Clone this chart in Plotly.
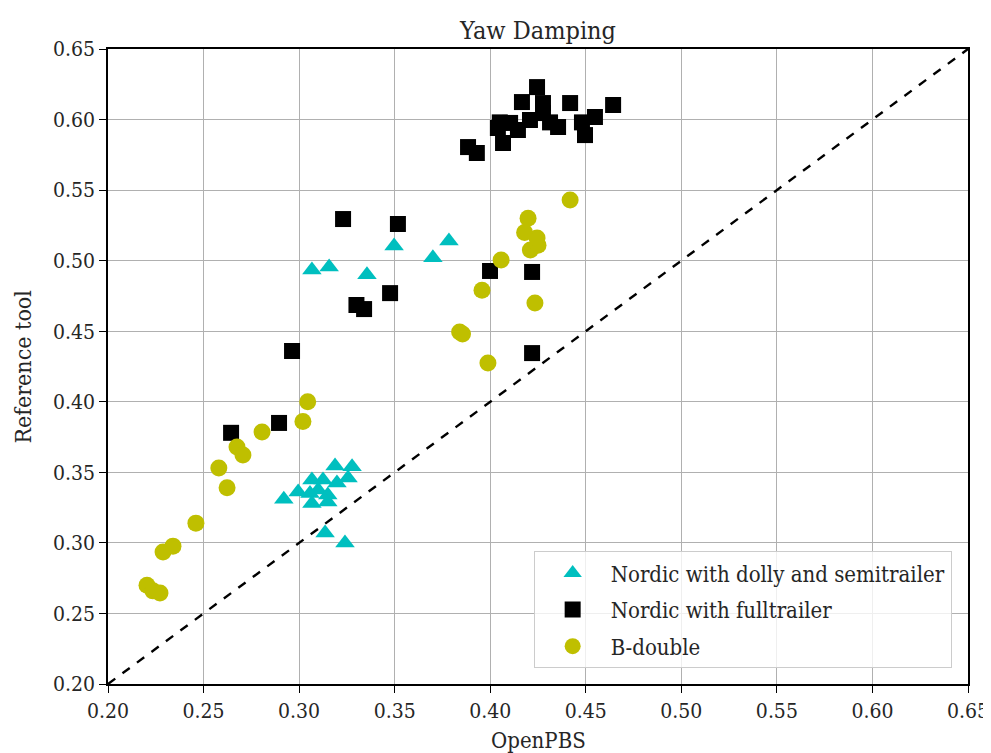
import plotly.graph_objects as go

# Nordic with dolly and semitrailer (cyan triangles)
dolly_x = [0.292, 0.2995, 0.3057, 0.3067, 0.3067, 0.31, 0.3125, 0.315, 0.315, 0.3188, 0.3198, 0.3256,
           0.3277, 0.3136, 0.324, 0.3067, 0.3157, 0.3355, 0.3497, 0.370, 0.3784]
dolly_y = [0.331, 0.336, 0.335, 0.3445, 0.328, 0.3375, 0.3445, 0.334, 0.329, 0.3545, 0.3424, 0.346,
           0.354, 0.307, 0.300, 0.4934, 0.4955, 0.490, 0.5104, 0.502, 0.514]

# Nordic with fulltrailer (black squares)
full_x = [0.2644, 0.2895, 0.2963, 0.323, 0.3517, 0.3476, 0.330, 0.334, 0.3999, 0.4219, 0.4219,
          0.4245, 0.4166, 0.4418, 0.4643, 0.4276, 0.4276, 0.405, 0.4104, 0.4208, 0.4313, 0.4355,
          0.448, 0.4548, 0.404, 0.4145, 0.4496, 0.4067, 0.3884, 0.393]
full_y = [0.378, 0.385, 0.436, 0.5295, 0.526, 0.477, 0.4686, 0.4657, 0.4927, 0.492, 0.4345,
          0.623, 0.6124, 0.6117, 0.6103, 0.6117, 0.6046, 0.598, 0.5976, 0.5997, 0.598, 0.5947,
          0.598, 0.6018, 0.594, 0.5926, 0.589, 0.5834, 0.5805, 0.5763]

# B-double (yellow circles)
bd_x = [0.2204, 0.2235, 0.2272, 0.2288, 0.234, 0.246, 0.258, 0.2623, 0.2675, 0.2706, 0.2806,
        0.302, 0.3045, 0.384, 0.3855, 0.3988, 0.3957, 0.4057, 0.4234, 0.421, 0.425, 0.4245,
        0.418, 0.4198, 0.4418]
bd_y = [0.270, 0.266, 0.2645, 0.2935, 0.2977, 0.314, 0.353, 0.339, 0.368, 0.3623, 0.3786,
        0.386, 0.400, 0.4494, 0.448, 0.4275, 0.479, 0.5005, 0.470, 0.5075, 0.511, 0.516,
        0.520, 0.530, 0.543]

diag = [0.20, 0.65]
ticks = [0.20, 0.25, 0.30, 0.35, 0.40, 0.45, 0.50, 0.55, 0.60, 0.65]
tick_text = [f"{t:.2f}" for t in ticks]

FONT = "DejaVu Serif Condensed, DejaVu Serif"
TXT = "#262626"

fig = go.Figure()
fig.add_trace(go.Scatter(x=diag, y=diag, mode="lines", showlegend=False,
                         line=dict(color="black", width=2.4, dash="dash")))
fig.add_trace(go.Scatter(x=dolly_x, y=dolly_y, mode="markers", name="Nordic with dolly and semitrailer",
                         legendgroup="a", marker=dict(symbol="triangle-up", size=17, color="#00BFBF")))
fig.add_trace(go.Scatter(x=full_x, y=full_y, mode="markers", name="Nordic with fulltrailer",
                         legendgroup="b", marker=dict(symbol="square", size=16, color="black")))
fig.add_trace(go.Scatter(x=bd_x, y=bd_y, mode="markers", name="B-double",
                         legendgroup="c", marker=dict(symbol="circle", size=17, color="#BFBF00")))

axis_common = dict(range=[0.20, 0.65], tickvals=ticks, ticktext=tick_text, showgrid=True,
                   gridcolor="#b0b0b0", gridwidth=1, showline=True, linecolor="black",
                   linewidth=1.5, mirror=True, ticks="outside", ticklen=7, tickcolor="black",
                   zeroline=False, automargin=False, ticklabeloverflow="allow",
                   tickfont=dict(family=FONT, size=21, color=TXT))

fig.update_layout(
    width=983, height=745,
    margin=dict(l=100, r=23, t=41, b=69),
    paper_bgcolor="white", plot_bgcolor="white",
    font=dict(family=FONT, color=TXT),
    title=dict(text="Yaw Damping", x=(100 + 430) / 983, xanchor="center", y=1 - 22 / 745,
               yanchor="middle", font=dict(family=FONT, size=25, color=TXT)),
    xaxis=axis_common,
    yaxis=axis_common,
    legend=dict(x=0.981, y=0.025, xanchor="right", yanchor="bottom", bgcolor="rgba(255,255,255,0.8)",
                bordercolor="#cccccc", borderwidth=1, font=dict(family=FONT, size=22, color=TXT),
                itemwidth=66, tracegroupgap=5),
    annotations=[
        dict(text="OpenPBS", xref="paper", yref="paper", x=0.5, y=(684 - 740) / 635,
             xanchor="center", yanchor="middle", showarrow=False,
             font=dict(family=FONT, size=22, color=TXT)),
        dict(text="Reference tool", xref="paper", yref="paper", x=(22 - 108) / 860, y=0.5,
             xanchor="center", yanchor="middle", textangle=-90, showarrow=False,
             font=dict(family=FONT, size=23, color=TXT)),
    ],
)

fig.write_html("out.html")
